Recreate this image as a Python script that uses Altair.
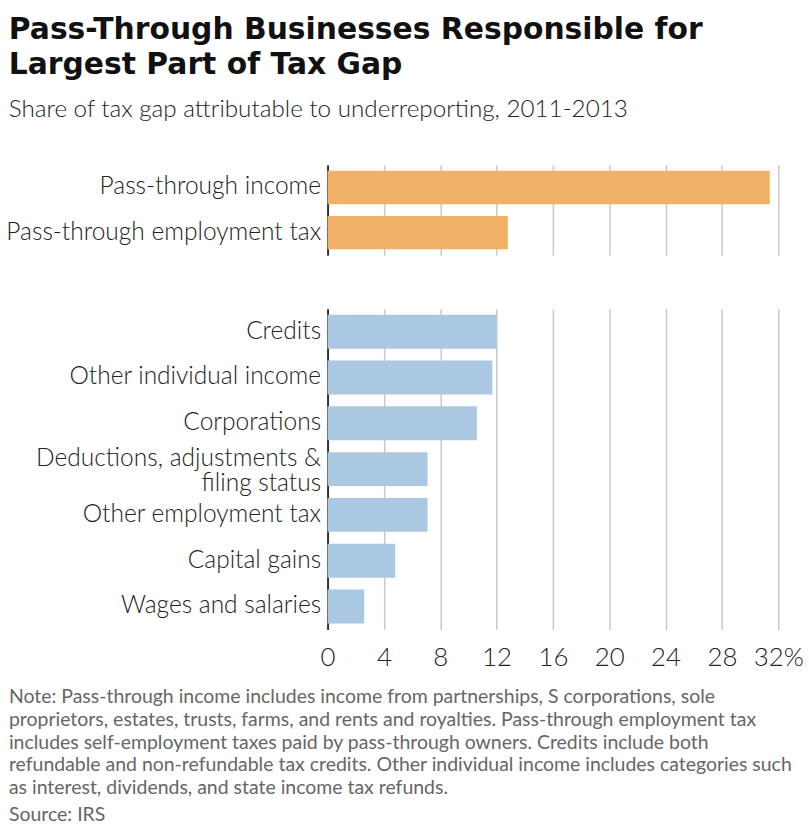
import altair as alt
import pandas as pd

# ---- data ----
top_cats = ["Pass-through income", "Pass-through employment tax"]
top_vals = [31.4, 12.8]
bot_cats = [
    "Credits",
    "Other individual income",
    "Corporations",
    "Deductions, adjustments & filing status",
    "Other employment tax",
    "Capital gains",
    "Wages and salaries",
]
bot_vals = [12.0, 11.7, 10.6, 7.1, 7.1, 4.8, 2.6]
x_ticks = [0, 4, 8, 12, 16, 20, 24, 28, 32]
title_lines = ["Pass-Through Businesses Responsible for", "Largest Part of Tax Gap"]
subtitle = "Share of tax gap attributable to underreporting, 2011-2013"
note_lines = [
    "Note: Pass-through income includes income from partnerships, S corporations, sole",
    "proprietors, estates, trusts, farms, and rents and royalties. Pass-through employment tax",
    "includes self-employment taxes paid by pass-through owners. Credits include both",
    "refundable and non-refundable tax credits. Other individual income includes categories such",
    "as interest, dividends, and state income tax refunds.",
]
source = "Source: IRS"

FONT = "Lato"
TFONT = "DejaVu Sans"
ORANGE = "#F0B166"
BLUE = "#AAC8E1"
W = 454
H_BOT = 323
WRAPPED = "Deductions, adjustments & filing status"

top_df = pd.DataFrame({"cat": top_cats, "val": top_vals})
bot_df = pd.DataFrame({"cat": bot_cats, "val": bot_vals})
note_df = pd.DataFrame({"t": ["\n".join(note_lines)]})
src_df = pd.DataFrame({"t": [source]})

x_scale = alt.Scale(domain=[0, 32], nice=False, zero=True)

label_expr = ("datum.label == '" + WRAPPED + "' ? "
              "['Deductions, adjustments &', 'filing status'] : datum.label")

def y_enc(cats):
    return alt.Y(
        "cat:N",
        sort=cats,
        scale=alt.Scale(paddingInner=0.26, paddingOuter=0.13),
        axis=alt.Axis(
            title=None, ticks=False, grid=False, domain=True,
            domainColor="#333333", domainWidth=2,
            labelFont=FONT, labelFontSize=24.7, labelFontWeight=300,
            labelColor="#222222", labelPadding=7, labelLimit=400,
            labelExpr=label_expr, labelLineHeight=25,
            labelOffset={"condition": {"test": "datum.value == '" + WRAPPED + "'",
                                       "value": -10}, "value": 0},
        ),
    )

top = alt.Chart(top_df).mark_bar(color=ORANGE).encode(
    x=alt.X("val:Q", scale=x_scale,
            axis=alt.Axis(title=None, values=x_ticks, labels=False, ticks=False,
                          domain=False, grid=True, gridColor="#c8c8c8", gridWidth=1.5)),
    y=y_enc(top_cats),
).properties(width=W, height=91)

bars = alt.Chart(bot_df).mark_bar(color=BLUE).encode(
    x=alt.X("val:Q", scale=x_scale,
            axis=alt.Axis(title=None, values=x_ticks, ticks=False, domain=False,
                          grid=True, gridColor="#c8c8c8", gridWidth=1.5,
                          labelFont=FONT, labelFontSize=26, labelFontWeight=300,
                          labelColor="#222222", labelPadding=15, labelOverlap=False,
                          labelFlush=False,
                          labelExpr="datum.value == 32 ? '32%' : datum.label")),
    y=y_enc(bot_cats),
)

note = alt.Chart(note_df).mark_text(
    align="left", baseline="top", lineBreak="\n", lineHeight=23,
    font=FONT, fontSize=19.6, color="#666666",
).encode(x=alt.value(-321), y=alt.value(382), text="t:N")

src = alt.Chart(src_df).mark_text(
    align="left", baseline="top",
    font=FONT, fontSize=19.6, color="#666666",
).encode(x=alt.value(-321), y=alt.value(501), text="t:N")

bottom = alt.layer(bars, note, src).properties(width=W, height=H_BOT)

chart = alt.vconcat(top, bottom, spacing=54).properties(
    title=alt.TitleParams(
        text=title_lines, subtitle=subtitle, anchor="start", frame="bounds",
        font=TFONT, fontSize=30, fontWeight="bold", color="#111111", lineHeight=35,
        subtitleFont=FONT, subtitleFontSize=24.4, subtitleFontWeight=300,
        subtitleColor="#222222", subtitlePadding=18, offset=44, dx=3,
    ),
    padding={"left": 5, "top": 12, "right": 5, "bottom": 0},
).configure_view(stroke=None)

chart.save("out.html", embed_options={"renderer": "svg", "actions": False})
